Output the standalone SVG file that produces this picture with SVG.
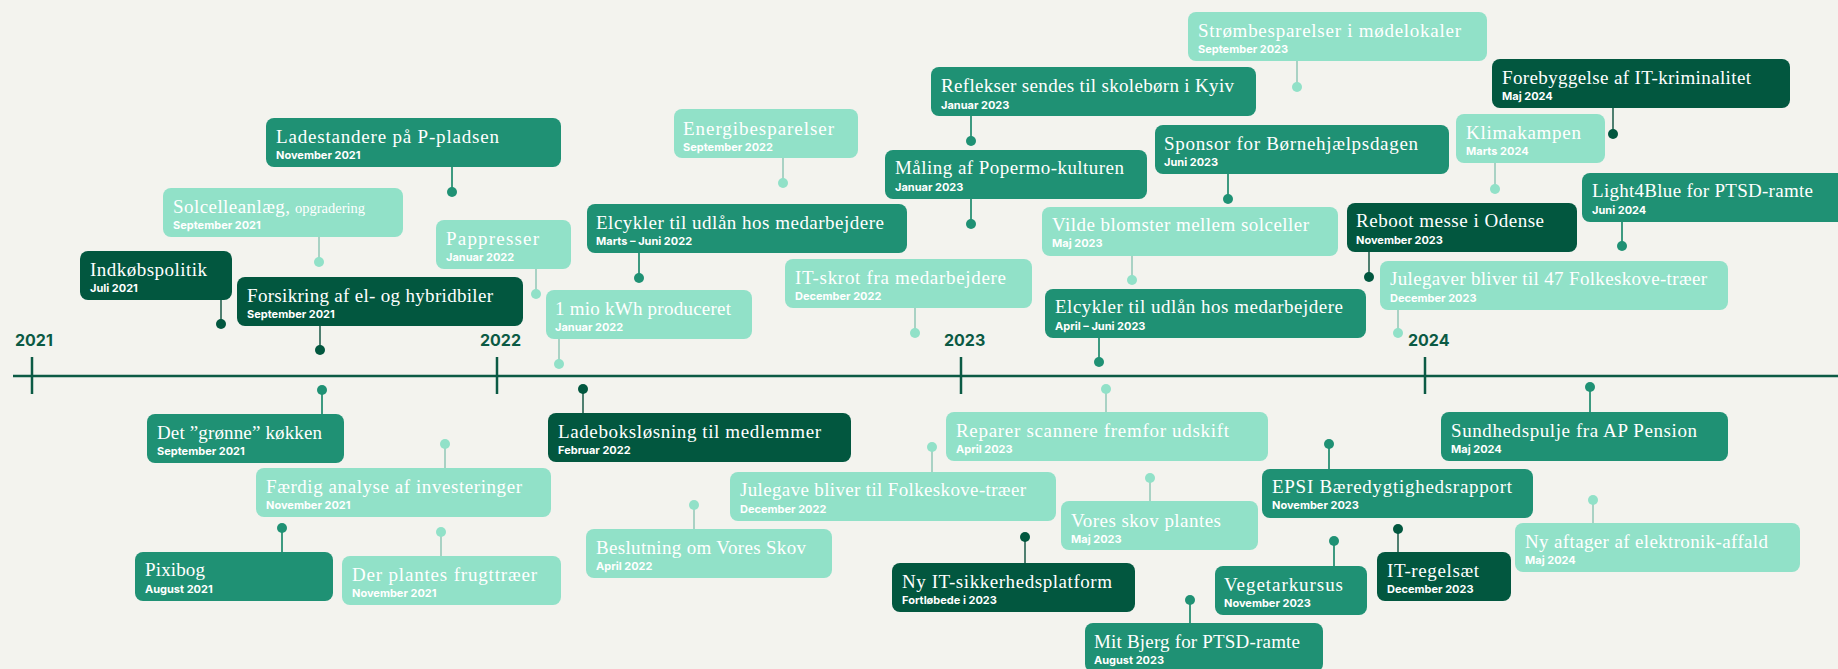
<svg xmlns="http://www.w3.org/2000/svg" width="1838" height="669" viewBox="0 0 1838 669">
<style>
.bg{fill:#f3f3ee}
.dark{fill:#02573f}
.mid{fill:#1f9174}
.light{fill:#91e1c8}
.t{font-family:"Liberation Serif","Times New Roman",serif;font-size:19px;fill:#ffffff}
.ts{font-size:14.5px}
.d{font-family:Inter,"Liberation Sans",sans-serif;font-weight:700;font-size:11px;fill:#ffffff}
.yr{font-family:Inter,"Liberation Sans",sans-serif;font-weight:700;font-size:16px;fill:#0b5a44}
.axis{stroke:#0b5a44;stroke-width:2.5;fill:none}
.ld{stroke:#4f7f70;stroke-width:2}
.lm{stroke:#3d9a80;stroke-width:2}
.ll{stroke:#a9d2c4;stroke-width:2}
.pd{fill:#02573f}
.pm{fill:#1f9174}
.pl{fill:#91e1c8}
</style>
<rect class="bg" x="0" y="0" width="1838" height="669"/>
<g id="axis">
<line class="axis" x1="13" y1="376" x2="1838" y2="376"/>
<line class="axis" x1="32" y1="357" x2="32" y2="394"/>
<line class="axis" x1="497" y1="357" x2="497" y2="394"/>
<line class="axis" x1="961" y1="357" x2="961" y2="394"/>
<line class="axis" x1="1425" y1="357" x2="1425" y2="394"/>
<text class="yr" x="15" y="346">2021</text>
<text class="yr" x="480" y="346">2022</text>
<text class="yr" x="944" y="346">2023</text>
<text class="yr" x="1408" y="346">2024</text>
</g>
<g id="connectors">
<line class="lm" x1="452" y1="167" x2="452" y2="192"/><circle class="pm" cx="452" cy="192" r="5"/>
<line class="ll" x1="319" y1="237" x2="319" y2="262"/><circle class="pl" cx="319" cy="262" r="5"/>
<line class="ld" x1="221" y1="299" x2="221" y2="324"/><circle class="pd" cx="221" cy="324" r="5"/>
<line class="ld" x1="320" y1="325" x2="320" y2="350"/><circle class="pd" cx="320" cy="350" r="5"/>
<line class="lm" x1="322" y1="390" x2="322" y2="414"/><circle class="pm" cx="322" cy="390" r="5"/>
<line class="lm" x1="282" y1="528" x2="282" y2="552"/><circle class="pm" cx="282" cy="528" r="5"/>
<line class="ll" x1="445" y1="444" x2="445" y2="468"/><circle class="pl" cx="445" cy="444" r="5"/>
<line class="ll" x1="441" y1="532" x2="441" y2="556"/><circle class="pl" cx="441" cy="532" r="5"/>
<line class="ll" x1="536" y1="269" x2="536" y2="294"/><circle class="pl" cx="536" cy="294" r="5"/>
<line class="lm" x1="639" y1="253" x2="639" y2="278"/><circle class="pm" cx="639" cy="278" r="5"/>
<line class="ll" x1="559" y1="339" x2="559" y2="364"/><circle class="pl" cx="559" cy="364" r="5"/>
<line class="ld" x1="583" y1="389" x2="583" y2="413"/><circle class="pd" cx="583" cy="389" r="5"/>
<line class="ll" x1="915" y1="308" x2="915" y2="333"/><circle class="pl" cx="915" cy="333" r="5"/>
<line class="ll" x1="783" y1="158" x2="783" y2="183"/><circle class="pl" cx="783" cy="183" r="5"/>
<line class="lm" x1="971" y1="199" x2="971" y2="224"/><circle class="pm" cx="971" cy="224" r="5"/>
<line class="lm" x1="971" y1="116" x2="971" y2="141"/><circle class="pm" cx="971" cy="141" r="5"/>
<line class="ll" x1="1297" y1="61" x2="1297" y2="87"/><circle class="pl" cx="1297" cy="87" r="5"/>
<line class="lm" x1="1228" y1="174" x2="1228" y2="199"/><circle class="pm" cx="1228" cy="199" r="5"/>
<line class="ll" x1="1132" y1="255" x2="1132" y2="280"/><circle class="pl" cx="1132" cy="280" r="5"/>
<line class="lm" x1="1099" y1="338" x2="1099" y2="362"/><circle class="pm" cx="1099" cy="362" r="5"/>
<line class="ld" x1="1369" y1="252" x2="1369" y2="277"/><circle class="pd" cx="1369" cy="277" r="5"/>
<line class="ll" x1="1106" y1="389" x2="1106" y2="412"/><circle class="pl" cx="1106" cy="389" r="5"/>
<line class="ll" x1="932" y1="447" x2="932" y2="472"/><circle class="pl" cx="932" cy="447" r="5"/>
<line class="ll" x1="694" y1="505" x2="694" y2="529"/><circle class="pl" cx="694" cy="505" r="5"/>
<line class="ld" x1="1025" y1="537" x2="1025" y2="563"/><circle class="pd" cx="1025" cy="537" r="5"/>
<line class="ll" x1="1150" y1="478" x2="1150" y2="501"/><circle class="pl" cx="1150" cy="478" r="5"/>
<line class="lm" x1="1190" y1="600" x2="1190" y2="623"/><circle class="pm" cx="1190" cy="600" r="5"/>
<line class="lm" x1="1329" y1="444" x2="1329" y2="469"/><circle class="pm" cx="1329" cy="444" r="5"/>
<line class="lm" x1="1334" y1="541" x2="1334" y2="566"/><circle class="pm" cx="1334" cy="541" r="5"/>
<line class="ld" x1="1398" y1="529" x2="1398" y2="552"/><circle class="pd" cx="1398" cy="529" r="5"/>
<line class="ll" x1="1593" y1="500" x2="1593" y2="523"/><circle class="pl" cx="1593" cy="500" r="5"/>
<line class="lm" x1="1590" y1="387" x2="1590" y2="412"/><circle class="pm" cx="1590" cy="387" r="5"/>
<line class="ll" x1="1398" y1="309" x2="1398" y2="333"/><circle class="pl" cx="1398" cy="333" r="5"/>
<line class="lm" x1="1622" y1="222" x2="1622" y2="246"/><circle class="pm" cx="1622" cy="246" r="5"/>
<line class="ld" x1="1613" y1="108" x2="1613" y2="134"/><circle class="pd" cx="1613" cy="134" r="5"/>
<line class="ll" x1="1495" y1="163" x2="1495" y2="189"/><circle class="pl" cx="1495" cy="189" r="5"/>
</g>
<g id="ladestandere"><rect class="mid" x="266" y="118" width="295" height="49" rx="8"/><text class="t" x="276" y="142.5" textLength="223" lengthAdjust="spacing">Ladestandere på P-pladsen</text><text class="d" x="276" y="159">November 2021</text></g>
<g id="solcelle"><rect class="light" x="163" y="188" width="240" height="49" rx="8"/><text class="t" x="173" y="212.5"><tspan textLength="117" lengthAdjust="spacing">Solcelleanlæg,</tspan><tspan class="ts" x="295">opgradering</tspan></text><text class="d" x="173" y="229">September 2021</text></g>
<g id="indkob"><rect class="dark" x="80" y="251" width="152" height="49" rx="8"/><text class="t" x="90" y="275.5" textLength="117" lengthAdjust="spacing">Indkøbspolitik</text><text class="d" x="90" y="291.5">Juli 2021</text></g>
<g id="forsikring"><rect class="dark" x="237" y="277" width="286" height="49" rx="8"/><text class="t" x="247" y="301.5" textLength="246" lengthAdjust="spacing">Forsikring af el- og hybridbiler</text><text class="d" x="247" y="317.5">September 2021</text></g>
<g id="gronne"><rect class="mid" x="147" y="414" width="197" height="49" rx="8"/><text class="t" x="157" y="438.5" textLength="165" lengthAdjust="spacing">Det ”grønne” køkken</text><text class="d" x="157" y="454.5">September 2021</text></g>
<g id="pixibog"><rect class="mid" x="135" y="552" width="198" height="49" rx="8"/><text class="t" x="145" y="576" textLength="60" lengthAdjust="spacing">Pixibog</text><text class="d" x="145" y="592.5">August 2021</text></g>
<g id="faerdig"><rect class="light" x="256" y="468" width="295" height="49" rx="8"/><text class="t" x="266" y="493" textLength="256" lengthAdjust="spacing">Færdig analyse af investeringer</text><text class="d" x="266" y="509">November 2021</text></g>
<g id="frugt"><rect class="light" x="342" y="556" width="219" height="49" rx="8"/><text class="t" x="352" y="580.5" textLength="185" lengthAdjust="spacing">Der plantes frugttræer</text><text class="d" x="352" y="597">November 2021</text></g>
<g id="pappresser"><rect class="light" x="436" y="220" width="135" height="49" rx="8"/><text class="t" x="446" y="244.5" textLength="93" lengthAdjust="spacing">Pappresser</text><text class="d" x="446" y="260.5">Januar 2022</text></g>
<g id="elcykler22"><rect class="mid" x="587" y="204" width="320" height="49" rx="8"/><text class="t" x="596" y="228.5" textLength="288" lengthAdjust="spacing">Elcykler til udlån hos medarbejdere</text><text class="d" x="596" y="245">Marts – Juni 2022</text></g>
<g id="mio"><rect class="light" x="546" y="290" width="206" height="49" rx="8"/><text class="t" x="555" y="315" textLength="176" lengthAdjust="spacing">1 mio kWh produceret</text><text class="d" x="555" y="331">Januar 2022</text></g>
<g id="ladeboks"><rect class="dark" x="548" y="413" width="303" height="49" rx="8"/><text class="t" x="558" y="438" textLength="263" lengthAdjust="spacing">Ladeboksløsning til medlemmer</text><text class="d" x="558" y="453.5">Februar 2022</text></g>
<g id="itskrot"><rect class="light" x="785" y="259" width="247" height="49" rx="8"/><text class="t" x="795" y="283.5" textLength="211" lengthAdjust="spacing">IT-skrot fra medarbejdere</text><text class="d" x="795" y="300">December 2022</text></g>
<g id="energi"><rect class="light" x="674" y="109" width="184" height="49" rx="8"/><text class="t" x="683" y="134.5" textLength="151" lengthAdjust="spacing">Energibesparelser</text><text class="d" x="683" y="151">September 2022</text></g>
<g id="maling"><rect class="mid" x="885" y="150" width="262" height="49" rx="8"/><text class="t" x="895" y="174" textLength="229" lengthAdjust="spacing">Måling af Popermo-kulturen</text><text class="d" x="895" y="190.5">Januar 2023</text></g>
<g id="reflekser"><rect class="mid" x="931" y="67" width="325" height="49" rx="8"/><text class="t" x="941" y="92" textLength="293" lengthAdjust="spacing">Reflekser sendes til skolebørn i Kyiv</text><text class="d" x="941" y="108.5">Januar 2023</text></g>
<g id="strom"><rect class="light" x="1188" y="12" width="299" height="49" rx="8"/><text class="t" x="1198" y="36.5" textLength="263" lengthAdjust="spacing">Strømbesparelser i mødelokaler</text><text class="d" x="1198" y="52.5">September 2023</text></g>
<g id="sponsor"><rect class="mid" x="1155" y="125" width="294" height="49" rx="8"/><text class="t" x="1164" y="149.5" textLength="254" lengthAdjust="spacing">Sponsor for Børnehjælpsdagen</text><text class="d" x="1164" y="166">Juni 2023</text></g>
<g id="vilde"><rect class="light" x="1042" y="207" width="296" height="49" rx="8"/><text class="t" x="1052" y="230.5" textLength="257" lengthAdjust="spacing">Vilde blomster mellem solceller</text><text class="d" x="1052" y="247">Maj 2023</text></g>
<g id="elcykler23"><rect class="mid" x="1045" y="289" width="321" height="49" rx="8"/><text class="t" x="1055" y="313" textLength="288" lengthAdjust="spacing">Elcykler til udlån hos medarbejdere</text><text class="d" x="1055" y="330">April – Juni 2023</text></g>
<g id="reboot"><rect class="dark" x="1347" y="203" width="230" height="49" rx="8"/><text class="t" x="1356" y="227" textLength="188" lengthAdjust="spacing">Reboot messe i Odense</text><text class="d" x="1356" y="243.5">November 2023</text></g>
<g id="reparer"><rect class="light" x="946" y="412" width="322" height="49" rx="8"/><text class="t" x="956" y="437" textLength="273" lengthAdjust="spacing">Reparer scannere fremfor udskift</text><text class="d" x="956" y="453">April 2023</text></g>
<g id="julegave22"><rect class="light" x="730" y="472" width="326" height="49" rx="8"/><text class="t" x="740" y="496" textLength="286" lengthAdjust="spacing">Julegave bliver til Folkeskove-træer</text><text class="d" x="740" y="512.5">December 2022</text></g>
<g id="beslutning"><rect class="light" x="586" y="529" width="246" height="49" rx="8"/><text class="t" x="596" y="554" textLength="210" lengthAdjust="spacing">Beslutning om Vores Skov</text><text class="d" x="596" y="570">April 2022</text></g>
<g id="nyit"><rect class="dark" x="892" y="563" width="243" height="49" rx="8"/><text class="t" x="902" y="587.5" textLength="210" lengthAdjust="spacing">Ny IT-sikkerhedsplatform</text><text class="d" x="902" y="603.5">Fortløbede i 2023</text></g>
<g id="voresskov"><rect class="light" x="1061" y="501" width="197" height="49" rx="8"/><text class="t" x="1071" y="526.5" textLength="150" lengthAdjust="spacing">Vores skov plantes</text><text class="d" x="1071" y="542.5">Maj 2023</text></g>
<g id="mitbjerg"><rect class="mid" x="1085" y="623" width="238" height="49" rx="8"/><text class="t" x="1094" y="647.5" textLength="206" lengthAdjust="spacing">Mit Bjerg for PTSD-ramte</text><text class="d" x="1094" y="663.5">August 2023</text></g>
<g id="epsi"><rect class="mid" x="1262" y="469" width="271" height="49" rx="8"/><text class="t" x="1272" y="493" textLength="240" lengthAdjust="spacing">EPSI Bæredygtighedsrapport</text><text class="d" x="1272" y="509">November 2023</text></g>
<g id="vegetar"><rect class="mid" x="1215" y="566" width="152" height="49" rx="8"/><text class="t" x="1224" y="591" textLength="119" lengthAdjust="spacing">Vegetarkursus</text><text class="d" x="1224" y="607">November 2023</text></g>
<g id="itregel"><rect class="dark" x="1377" y="552" width="134" height="49" rx="8"/><text class="t" x="1387" y="576.5" textLength="92" lengthAdjust="spacing">IT-regelsæt</text><text class="d" x="1387" y="593">December 2023</text></g>
<g id="nyaftager"><rect class="light" x="1515" y="523" width="285" height="49" rx="8"/><text class="t" x="1525" y="548" textLength="243" lengthAdjust="spacing">Ny aftager af elektronik-affald</text><text class="d" x="1525" y="563.5">Maj 2024</text></g>
<g id="sundhed"><rect class="mid" x="1441" y="412" width="287" height="49" rx="8"/><text class="t" x="1451" y="437" textLength="246" lengthAdjust="spacing">Sundhedspulje fra AP Pension</text><text class="d" x="1451" y="452.5">Maj 2024</text></g>
<g id="julegaver23"><rect class="light" x="1380" y="261" width="348" height="49" rx="8"/><text class="t" x="1390" y="285" textLength="317" lengthAdjust="spacing">Julegaver bliver til 47 Folkeskove-træer</text><text class="d" x="1390" y="302">December 2023</text></g>
<g id="light4blue"><rect class="mid" x="1582" y="173" width="264" height="49" rx="8"/><text class="t" x="1592" y="197" textLength="221" lengthAdjust="spacing">Light4Blue for PTSD-ramte</text><text class="d" x="1592" y="213.5">Juni 2024</text></g>
<g id="forebyg"><rect class="dark" x="1492" y="59" width="298" height="49" rx="8"/><text class="t" x="1502" y="83.5" textLength="249" lengthAdjust="spacing">Forebyggelse af IT-kriminalitet</text><text class="d" x="1502" y="100">Maj 2024</text></g>
<g id="klima"><rect class="light" x="1456" y="114" width="149" height="49" rx="8"/><text class="t" x="1466" y="138.5" textLength="115" lengthAdjust="spacing">Klimakampen</text><text class="d" x="1466" y="154.5">Marts 2024</text></g>
</svg>
